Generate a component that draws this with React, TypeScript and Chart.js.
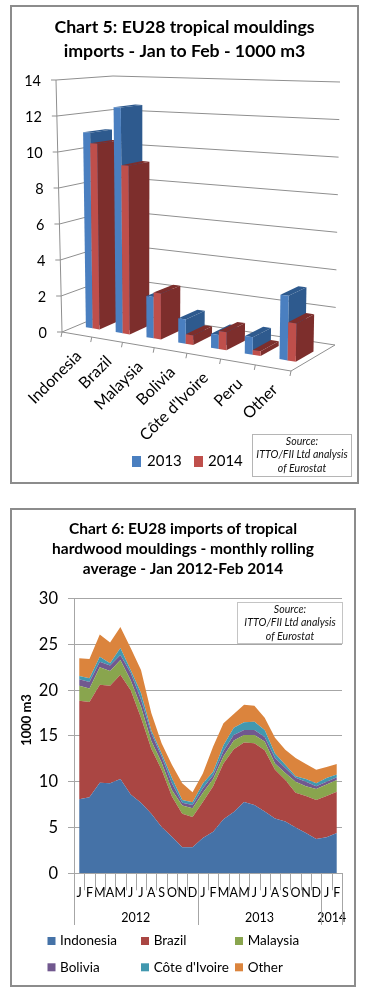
import React, { useEffect, useRef } from "react";
import { Chart, registerables } from "chart.js";

Chart.register(...registerables);

const FONT = "Lato, 'Open Sans', sans-serif";

// ---- Chart 5 data
const countries5 = ["Indonesia", "Brazil", "Malaysia", "Bolivia", "Côte d'Ivoire", "Peru", "Other"];
const values2013 = [11.0, 12.5, 2.25, 1.3, 0.75, 0.9, 3.3];
const values2014 = [10.4, 9.3, 2.5, 0.5, 0.95, 0.25, 1.95];
const title5 = ["Chart 5: EU28 tropical mouldings", "imports - Jan to Feb - 1000 m3"];

// ---- Chart 6 data
const months = ["J","F","M","A","M","J","J","A","S","O","N","D","J","F","M","A","M","J","J","A","S","O","N","D","J","F"];
const years = ["2012", "2013", "2014"];
const yearMonths = [12, 12, 2];
const indonesia = [8.1,8.3,9.9,9.85,10.3,8.6,7.7,6.5,5.05,4.0,2.85,2.85,3.85,4.55,5.9,6.7,7.8,7.45,6.75,6.0,5.65,5.0,4.4,3.75,3.95,4.4];
const brazil = [10.75,10.4,10.7,10.65,11.4,11.4,9.3,7.1,6.25,4.4,3.65,3.3,3.95,4.95,6.1,6.85,6.5,6.75,6.7,5.3,4.55,3.8,4.05,4.25,4.5,4.5];
const malaysia = [1.65,1.5,1.9,1.6,1.6,1.1,1.2,0.85,0.8,0.7,0.9,0.95,1.0,0.8,0.8,0.95,0.8,0.9,0.95,0.7,0.75,1.2,1.05,1.2,1.25,1.3];
const bolivia = [0.7,0.7,0.6,0.6,0.55,0.8,0.8,0.85,0.65,0.75,0.3,0.35,0.5,0.4,0.55,0.6,0.55,0.55,0.5,0.6,0.55,0.45,0.5,0.3,0.3,0.3];
const coteIvoire = [0.35,0.4,0.55,0.25,0.75,0.3,0.7,0.3,0.35,0.55,0.3,0.3,0.5,0.4,0.65,0.8,0.85,0.9,0.75,0.5,0.35,0.15,0.3,0.35,0.4,0.3];
const other = [1.95,2.1,2.45,2.25,2.3,2.4,2.5,1.9,1.1,1.45,1.85,1.1,1.1,2.75,2.4,1.5,1.9,1.75,1.35,1.7,1.65,2.0,1.65,1.45,1.2,1.15];
const title6 = ["Chart 6: EU28 imports of tropical", "hardwood mouldings - monthly rolling", "average - Jan 2012-Feb 2014"];
const sourceLines = ["Source:", "ITTO/FII Ltd analysis", "of Eurostat"];

type Pt = [number, number];
const lerp = (a: number, b: number, t: number) => a + (b - a) * t;
const lerpPt = (a: Pt, b: Pt, t: number): Pt => [lerp(a[0], b[0], t), lerp(a[1], b[1], t)];

// Canvas offset of each chart on the page
const BOX5 = { x: 10, y: 5, w: 349, h: 479 };
const BOX6 = { x: 10, y: 508, w: 346, h: 479 };

// 3D box corners in page pixels
const FL: Pt = [62, 332], FR: Pt = [291, 371], BL: Pt = [112, 311], BR: Pt = [335, 345];
const FLt: Pt = [56, 80], FRt: Pt = [296, 89], BLt: Pt = [113, 76], BRt: Pt = [340, 82];

function project(u: number, v: number, f: number): Pt {
  const w = u * (0.894 + 0.106 * u);
  const floor = lerpPt(lerpPt(FL, FR, w), lerpPt(BL, BR, w), v);
  const top = lerpPt(lerpPt(FLt, FRt, w), lerpPt(BLt, BRt, w), v);
  const p = lerpPt(floor, top, f);
  return [p[0] - BOX5.x, p[1] - BOX5.y];
}

function poly(ctx: CanvasRenderingContext2D, pts: Pt[], fill: string) {
  ctx.beginPath();
  pts.forEach((p, i) => (i ? ctx.lineTo(p[0], p[1]) : ctx.moveTo(p[0], p[1])));
  ctx.closePath();
  ctx.fillStyle = fill;
  ctx.fill();
}

function seg(ctx: CanvasRenderingContext2D, a: Pt, b: Pt) {
  ctx.beginPath();
  ctx.moveTo(a[0], a[1]);
  ctx.lineTo(b[0], b[1]);
  ctx.stroke();
}

function frame(chart: any) {
  const ctx = chart.ctx;
  ctx.save();
  ctx.strokeStyle = "#8c8c8c";
  ctx.lineWidth = 2;
  ctx.strokeRect(1, 1, chart.width - 2, chart.height - 2);
  ctx.restore();
}

function sourceBox(ctx: CanvasRenderingContext2D, x: number, y: number, w: number, h: number, step: number, border: string) {
  ctx.save();
  ctx.fillStyle = "#fff";
  ctx.fillRect(x, y, w, h);
  ctx.strokeStyle = border;
  ctx.lineWidth = 1;
  ctx.strokeRect(x + 0.5, y + 0.5, w - 1, h - 1);
  ctx.fillStyle = "#111";
  ctx.font = `italic 10.6px ${FONT}`;
  ctx.textAlign = "center";
  ctx.textBaseline = "middle";
  sourceLines.forEach((t, i) => ctx.fillText(t, x + w / 2, y + 7.5 + i * step));
  ctx.restore();
}

const V0 = 0.3, V1 = 0.7;
const UOFF = 0.035 / 7;

const chart5Plugin = {
  id: "perspective5",
  beforeDatasetsDraw(chart: any) {
    const ctx: CanvasRenderingContext2D = chart.ctx;
    const { left, right, top, bottom } = chart.chartArea;
    const yScale = chart.scales.y;
    const xScale = chart.scales.x;
    ctx.save();
    // walls
    ctx.strokeStyle = "#8f8f8f";
    ctx.lineWidth = 1;
    for (const t of yScale.ticks) {
      const f = (bottom - yScale.getPixelForValue(t.value)) / (bottom - top);
      seg(ctx, project(0, 0, f), project(0, 1, f));
      seg(ctx, project(0, 1, f), project(1, 1, f));
      const a = project(0, 0, f);
      seg(ctx, [a[0] - 5, a[1]], a);
      ctx.fillStyle = "#000";
      ctx.font = `14.5px ${FONT}`;
      ctx.textAlign = "right";
      ctx.textBaseline = "middle";
      ctx.fillText(String(t.value), a[0] - 15, a[1] + 1.5);
    }
    seg(ctx, project(0, 0, 0), project(0, 0, 1));
    seg(ctx, project(1, 0, 0), project(1, 1, 0));
    seg(ctx, project(0, 0, 0), project(1, 0, 0));
    // category ticks & labels
    const n = chart.data.labels.length;
    chart.data.labels.forEach((lab: string, i: number) => {
      const cx = (xScale.getPixelForValue(i) - left) / (right - left);
      const p = project(cx, 0, 0);
      ctx.save();
      ctx.translate(p[0] + 2, p[1] + 19);
      ctx.rotate(-Math.PI / 4);
      ctx.fillStyle = "#000";
      ctx.font = `16px ${FONT}`;
      ctx.textAlign = "right";
      ctx.textBaseline = "middle";
      ctx.fillText(lab, 0, 0);
      ctx.restore();
    });
    for (let i = 0; i <= n; i++) {
      const p = project(i / n, 0, 0);
      seg(ctx, p, [p[0] - 1, p[1] + 5]);
    }
    // bars, drawn from the library's bar elements, left to right
    const colors = [
      { front: "#4a7fc0", side: "#2e5a8e" },
      { front: "#bf4f4b", side: "#7d2e2c" },
    ];
    for (let i = 0; i < n; i++) {
      [0, 1].forEach((d) => {
        const bar = chart.getDatasetMeta(d).data[i];
        const u0 = (bar.x - bar.width / 2 - left) / (right - left) + UOFF;
        const u1 = (bar.x + bar.width / 2 - left) / (right - left) + UOFF;
        const f = (bar.base - bar.y) / (bottom - top);
        const c = colors[d];
        poly(ctx, [project(u1, V0, f), project(u1, V1, f), project(u0, V1, f), project(u0, V0, f)], c.side);
        poly(ctx, [project(u1, V0, 0), project(u1, V1, 0), project(u1, V1, f), project(u1, V0, f)], c.side);
        poly(ctx, [project(u0, V0, 0), project(u1, V0, 0), project(u1, V0, f), project(u0, V0, f)], c.front);
      });
    }
    ctx.restore();
    return false;
  },
  afterDraw(chart: any) {
    const ctx: CanvasRenderingContext2D = chart.ctx;
    ctx.save();
    const entries = [
      { sq: 132, tx: 147, c: "#4a7fc0" },
      { sq: 194, tx: 208, c: "#bf4f4b" },
    ];
    entries.forEach((e, i) => {
      ctx.fillStyle = e.c;
      ctx.fillRect(e.sq - BOX5.x, 456 - BOX5.y, 9, 11);
      ctx.fillStyle = "#000";
      ctx.font = `15px ${FONT}`;
      ctx.textAlign = "left";
      ctx.textBaseline = "middle";
      ctx.fillText(chart.data.datasets[i].label, e.tx - BOX5.x, 461.5 - BOX5.y);
    });
    ctx.restore();
    sourceBox(ctx, 252 - BOX5.x, 434 - BOX5.y, 100, 43, 13.5, "#b5b5b5");
    frame(chart);
  },
};

const chart6Plugin = {
  id: "decor6",
  afterDraw(chart: any) {
    const ctx: CanvasRenderingContext2D = chart.ctx;
    const x = chart.scales.x;
    const { bottom } = chart.chartArea;
    ctx.save();
    ctx.strokeStyle = "#a6a6a6";
    ctx.lineWidth = 1;
    const step = x.getPixelForValue(1) - x.getPixelForValue(0);
    const edge = (i: number) => x.getPixelForValue(i) - step / 2;
    months.concat([""]).forEach((_, i) => {
      const px = Math.round(edge(i)) + 0.5;
      ctx.beginPath();
      ctx.moveTo(px, bottom);
      ctx.lineTo(px, bottom + 17);
      ctx.stroke();
    });
    ctx.fillStyle = "#000";
    ctx.textAlign = "center";
    ctx.textBaseline = "middle";
    ctx.font = `12.5px ${FONT}`;
    let start = 0;
    years.forEach((yr, i) => {
      const end = start + yearMonths[i];
      ctx.fillText(yr, (edge(start) + edge(end)) / 2, 917.7 - BOX6.y);
      [start, end].forEach((m) => {
        const px = Math.round(edge(m)) + 0.5;
        ctx.beginPath();
        ctx.moveTo(px, bottom);
        ctx.lineTo(px, 925 - BOX6.y);
        ctx.stroke();
      });
      start = end;
    });
    // axis title
    ctx.save();
    ctx.translate(26.7 - BOX6.x, 720 - BOX6.y);
    ctx.rotate(-Math.PI / 2);
    ctx.font = `bold 13px ${FONT}`;
    ctx.fillText("1000 m3", 0, 0);
    ctx.restore();
    // legend
    const cols = [47.5, 141, 235];
    const textX = [60, 153.7, 247.7];
    const rows = [941, 967.3];
    chart.data.datasets.forEach((ds: any, i: number) => {
      const c = i % 3;
      const r = Math.floor(i / 3);
      ctx.fillStyle = ds.backgroundColor;
      ctx.fillRect(cols[c] - BOX6.x, rows[r] - 4 - BOX6.y, 8, 8);
      ctx.fillStyle = "#000";
      ctx.font = `13.5px ${FONT}`;
      ctx.textAlign = "left";
      ctx.fillText(ds.label, textX[c] - BOX6.x, rows[r] - BOX6.y);
    });
    ctx.restore();
    sourceBox(ctx, 237 - BOX6.x, 602 - BOX6.y, 106, 42, 13.3, "#c4c4c4");
    frame(chart);
  },
};

function makeChart5(canvas: HTMLCanvasElement) {
  return new Chart(canvas, {
    type: "bar",
    data: {
      labels: countries5,
      datasets: [
        { label: "2013", data: values2013, backgroundColor: "#4a7fc0" },
        { label: "2014", data: values2014, backgroundColor: "#bf4f4b" },
      ],
    },
    options: {
      animation: false,
      responsive: false,
      devicePixelRatio: 1,
      layout: { padding: { left: 30, right: 30, bottom: 150 } },
      datasets: { bar: { categoryPercentage: 0.46, barPercentage: 1 } },
      scales: {
        x: { display: false },
        y: { display: false, min: 0, max: 14, ticks: { stepSize: 2 } },
      },
      plugins: {
        legend: { display: false },
        tooltip: { enabled: false },
        title: {
          display: true,
          text: title5,
          color: "#000",
          font: { family: FONT, size: 17.7, weight: "bold", lineHeight: 1.32 },
          padding: { top: 11, bottom: 14 },
        },
      },
    },
    plugins: [chart5Plugin],
  } as any);
}

function makeChart6(canvas: HTMLCanvasElement) {
  const series: [string, number[], string][] = [
    ["Indonesia", indonesia, "#4572a7"],
    ["Brazil", brazil, "#aa4643"],
    ["Malaysia", malaysia, "#89a54e"],
    ["Bolivia", bolivia, "#71588f"],
    ["Côte d'Ivoire", coteIvoire, "#4198af"],
    ["Other", other, "#db843d"],
  ];
  return new Chart(canvas, {
    type: "line",
    data: {
      labels: months,
      datasets: series.map(([label, data, color], i) => ({
        label,
        data,
        backgroundColor: color,
        borderColor: color,
        borderWidth: 0,
        pointRadius: 0,
        tension: 0,
        fill: i === 0 ? "origin" : "-1",
      })),
    },
    options: {
      animation: false,
      responsive: false,
      devicePixelRatio: 1,
      layout: { padding: { left: 14, right: 14, bottom: 0 } },
      scales: {
        x: {
          offset: true,
          grid: { display: false },
          border: { color: "#a6a6a6" },
          afterFit: (s: any) => { s.height = 113.7; },
          ticks: { autoSkip: false, maxRotation: 0, minRotation: 0, padding: 4, color: "#000", font: { family: FONT, size: 12.5 } },
        },
        y: {
          stacked: true,
          min: 0,
          max: 30,
          afterFit: (s: any) => { s.width = 50; },
          border: { color: "#a6a6a6" },
          grid: { color: "#a6a6a6", tickLength: 6 },
          ticks: { stepSize: 5, padding: 10, color: "#000", font: { family: FONT, size: 16.5 } },
        },
      },
      plugins: {
        legend: { display: false },
        tooltip: { enabled: false },
        title: {
          display: true,
          text: title6,
          color: "#000",
          font: { family: FONT, size: 15.5, weight: "bold", lineHeight: 1.29 },
          padding: { top: 11.3, bottom: 19.4 },
        },
      },
    },
    plugins: [chart6Plugin],
  } as any);
}

export default function App() {
  const ref5 = useRef<HTMLCanvasElement>(null);
  const ref6 = useRef<HTMLCanvasElement>(null);
  useEffect(() => {
    const a = makeChart5(ref5.current!);
    const b = makeChart6(ref6.current!);
    return () => {
      a.destroy();
      b.destroy();
    };
  }, []);
  const style = (b: { x: number; y: number }) => ({ position: "absolute" as const, left: b.x, top: b.y, background: "#fff" });
  return (
    <div style={{ position: "absolute", left: 0, top: 0, width: 375, height: 1000, background: "#fff" }}>
      <canvas ref={ref5} width={BOX5.w} height={BOX5.h} style={style(BOX5)} />
      <canvas ref={ref6} width={BOX6.w} height={BOX6.h} style={style(BOX6)} />
    </div>
  );
}
